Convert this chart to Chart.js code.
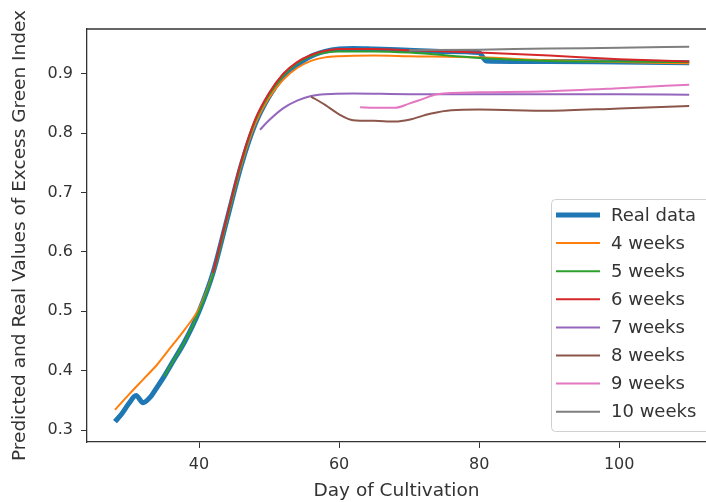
<!DOCTYPE html>
<html>
<head>
<meta charset="utf-8">
<script src="https://cdn.jsdelivr.net/npm/chart.js@4.4.1/dist/chart.umd.min.js"></script>
<style>
  html, body { margin: 0; padding: 0; background: #fff; }
  #wrap { width: 706px; height: 502px; }
</style>
</head>
<body>
<div id="wrap"><canvas id="chart"></canvas></div>
<script>
// tick labels
const xTicks = [40, 60, 80, 100];
const yTicks = [0.3, 0.4, 0.5, 0.6, 0.7, 0.8, 0.9];

// series (day of cultivation / excess green index)
const realDays = [28, 29, 30, 31, 32, 33, 34, 35, 36, 38, 40, 42, 44, 46, 48, 50, 52, 54, 56, 58, 60, 62, 65, 70, 75, 80, 81, 90, 100, 110];
const realValues = [0.314, 0.328, 0.345, 0.358, 0.346, 0.355, 0.372, 0.39, 0.41, 0.45, 0.5, 0.565, 0.655, 0.745, 0.815, 0.862, 0.895, 0.915, 0.93, 0.938, 0.942, 0.943, 0.942, 0.94, 0.938, 0.936, 0.922, 0.921, 0.92, 0.919];

const w4Days = [28, 30, 32, 34, 36, 38, 40, 42, 44, 46, 48, 50, 52, 54, 56, 58, 60, 65, 70, 80, 90, 100, 110];
const w4Values = [0.334, 0.36, 0.385, 0.41, 0.44, 0.47, 0.505, 0.565, 0.655, 0.745, 0.815, 0.86, 0.89, 0.91, 0.922, 0.928, 0.93, 0.931, 0.93, 0.928, 0.923, 0.92, 0.918];

const w5Days = [35, 36, 38, 40, 42, 44, 46, 48, 50, 52, 54, 56, 58, 60, 65, 70, 80, 90, 100, 110];
const w5Values = [0.39, 0.41, 0.45, 0.5, 0.563, 0.655, 0.748, 0.82, 0.865, 0.897, 0.918, 0.93, 0.936, 0.938, 0.938, 0.936, 0.927, 0.922, 0.921, 0.92];

const w6Days = [42, 44, 46, 48, 50, 52, 54, 56, 58, 60, 65, 70, 80, 90, 100, 110];
const w6Values = [0.565, 0.66, 0.752, 0.823, 0.868, 0.9, 0.92, 0.932, 0.939, 0.942, 0.942, 0.94, 0.936, 0.931, 0.925, 0.921];

const w7Days = [48.7, 50, 52, 54, 56, 58, 62, 70, 80, 90, 100, 110];
const w7Values = [0.806, 0.822, 0.842, 0.855, 0.863, 0.866, 0.867, 0.866, 0.866, 0.866, 0.866, 0.865];

const w8Days = [56, 58, 60, 62, 65, 68, 70, 73, 76, 80, 90, 100, 110];
const w8Values = [0.862, 0.848, 0.832, 0.822, 0.821, 0.82, 0.823, 0.833, 0.839, 0.84, 0.838, 0.842, 0.846];

const w9Days = [63, 65, 68, 70, 72, 74, 80, 90, 100, 110];
const w9Values = [0.844, 0.843, 0.843, 0.85, 0.858, 0.866, 0.869, 0.871, 0.876, 0.882];

const w10Days = [70, 80, 90, 100, 110];
const w10Values = [0.94, 0.941, 0.943, 0.944, 0.946];

const pts = (days, vals) => days.map((d, i) => ({ x: d, y: vals[i] }));

const series = [
  { label: "Real data", data: pts(realDays, realValues), color: "#1f77b4", width: 5 },
  { label: "4 weeks", data: pts(w4Days, w4Values), color: "#ff7f0e", width: 2 },
  { label: "5 weeks", data: pts(w5Days, w5Values), color: "#2ca02c", width: 2 },
  { label: "6 weeks", data: pts(w6Days, w6Values), color: "#d62728", width: 2 },
  { label: "7 weeks", data: pts(w7Days, w7Values), color: "#9467bd", width: 2 },
  { label: "8 weeks", data: pts(w8Days, w8Values), color: "#8c564b", width: 2 },
  { label: "9 weeks", data: pts(w9Days, w9Values), color: "#e377c2", width: 2 },
  { label: "10 weeks", data: pts(w10Days, w10Values), color: "#7f7f7f", width: 2 },
];

const axisColor = "#333";
const textColor = "#333";
const font = "'DejaVu Sans', sans-serif";

// top frame line (the right side is cut off in the picture)
const frame = {
  id: "frame",
  afterDraw(chart) {
    const { ctx, chartArea } = chart;
    ctx.save();
    ctx.strokeStyle = axisColor;
    ctx.lineWidth = 1.3;
    ctx.beginPath();
    ctx.moveTo(chartArea.left, chartArea.top);
    ctx.lineTo(chartArea.right, chartArea.top);
    ctx.stroke();
    ctx.restore();
  },
};

// matplotlib-like legend box in the lower right
const boxLegend = {
  id: "boxLegend",
  afterDraw(chart) {
    const ctx = chart.ctx;
    const x0 = 551, y0 = 199, x1 = 720, y1 = 431;
    ctx.save();
    ctx.fillStyle = "rgba(255,255,255,0.85)";
    ctx.strokeStyle = "#d0d0d0";
    ctx.lineWidth = 1;
    ctx.beginPath();
    ctx.roundRect(x0 + 0.5, y0 + 0.5, x1 - x0, y1 - y0, 4);
    ctx.fill();
    ctx.stroke();
    ctx.font = "18px " + font;
    ctx.textBaseline = "middle";
    ctx.fillStyle = textColor;
    chart.data.datasets.forEach((ds, i) => {
      const y = 215 + i * 28.1;
      ctx.strokeStyle = ds.borderColor;
      ctx.lineWidth = ds.borderWidth;
      ctx.beginPath();
      ctx.moveTo(556, y);
      ctx.lineTo(600, y);
      ctx.stroke();
      ctx.fillText(ds.label, 611, y + 1);
    });
    ctx.restore();
  },
};

new Chart(document.getElementById("chart"), {
  type: "line",
  data: {
    datasets: series.map((s, i) => ({
      label: s.label,
      data: s.data,
      borderColor: s.color,
      backgroundColor: s.color,
      borderWidth: s.width,
      pointRadius: 0,
      fill: false,
      cubicInterpolationMode: "monotone",
      order: series.length - i, // later series on top, like matplotlib
    })),
  },
  options: {
    responsive: true,
    maintainAspectRatio: false,
    animation: false,
    devicePixelRatio: 1,
    layout: { padding: { top: 29, left: 0, right: 0, bottom: 0 } },
    plugins: {
      legend: { display: false },
      tooltip: { enabled: false },
    },
    scales: {
      x: {
        type: "linear",
        min: 24,
        max: 112.4,
        afterBuildTicks: (scale) => { scale.ticks = xTicks.map((v) => ({ value: v })); },
        afterFit: (scale) => { scale.height = 60; },
        grid: { drawOnChartArea: false, drawTicks: true, tickLength: 6, tickColor: axisColor },
        border: { color: axisColor, width: 1.3 },
        ticks: { color: textColor, font: { family: font, size: 16 }, padding: 7, maxRotation: 0 },
        title: {
          display: true,
          text: "Day of Cultivation",
          color: textColor,
          font: { family: font, size: 18.5 },
          padding: { top: 0, bottom: 0 },
        },
      },
      y: {
        type: "linear",
        min: 0.2798,
        max: 0.9758,
        afterBuildTicks: (scale) => { scale.ticks = yTicks.map((v) => ({ value: v })); },
        afterFit: (scale) => { scale.width = 87; },
        grid: { drawOnChartArea: false, drawTicks: true, tickLength: 6, tickColor: axisColor },
        border: { color: axisColor, width: 1.3 },
        ticks: {
          color: textColor,
          font: { family: font, size: 16 },
          padding: 8,
          callback: (v) => v.toFixed(1),
        },
        title: {
          display: true,
          text: "Predicted and Real Values of Excess Green Index",
          color: textColor,
          font: { family: font, size: 18.5 },
          padding: { top: 9, bottom: 0 },
        },
      },
    },
  },
  plugins: [frame, boxLegend],
});
</script>
</body>
</html>
